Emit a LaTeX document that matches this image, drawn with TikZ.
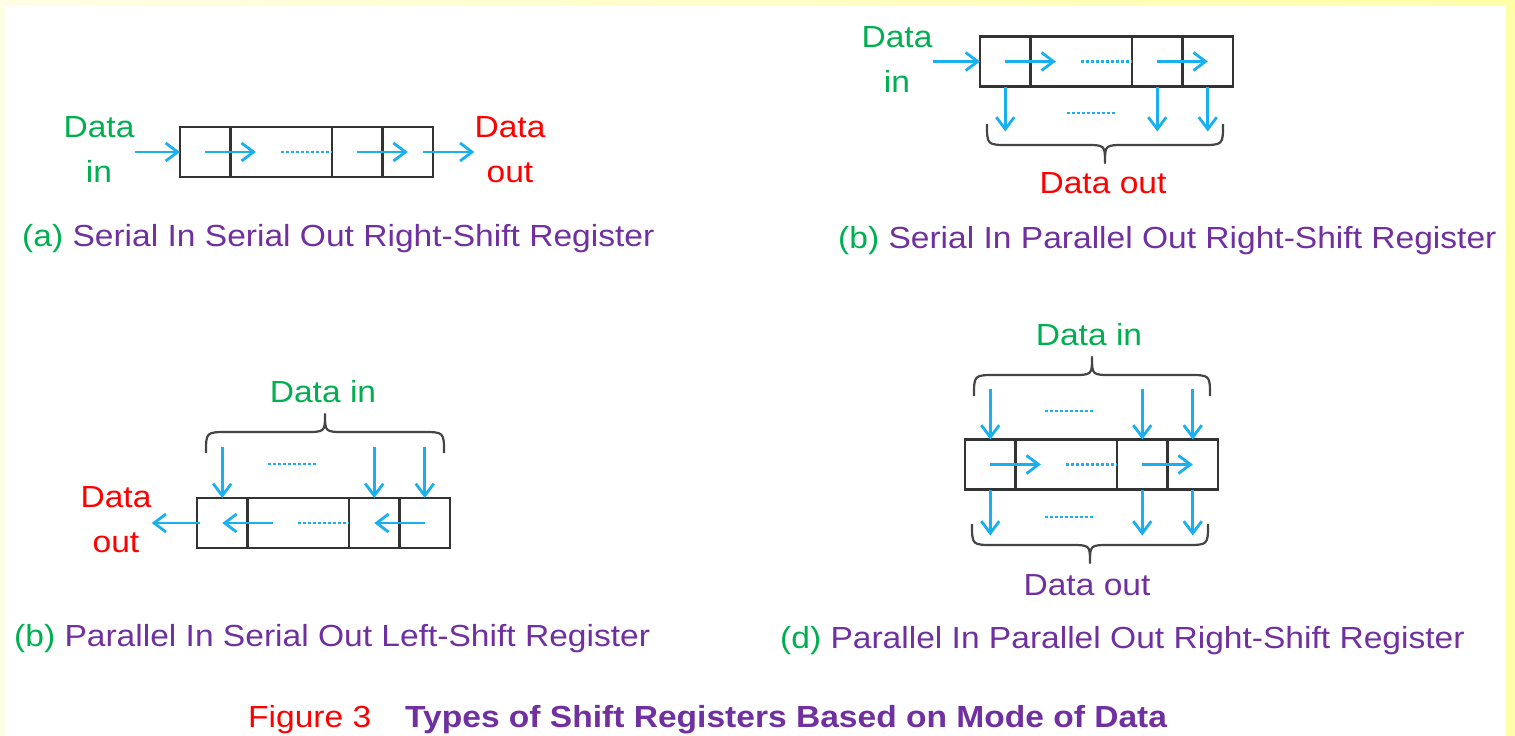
\documentclass[tikz,border=0pt]{standalone}
\usepackage{fontspec}
\setmainfont{Liberation Sans}[FakeStretch=1.1]
\usetikzlibrary{positioning, arrows.meta, calc}

\definecolor{datagreen}{HTML}{00B050}
\definecolor{datared}{HTML}{FF0000}
\definecolor{captionpurple}{HTML}{7030A0}
\definecolor{flowblue}{HTML}{1AAFEF}
\definecolor{boxgray}{HTML}{333333}
\definecolor{bracegray}{HTML}{454545}
\definecolor{pageyellow}{HTML}{FFFFA8}
\definecolor{edgecream}{HTML}{FFFDE4}

\newcommand{\labelfont}{\fontsize{30.5}{45}\selectfont}
% brace: left x, right x, end y, direction (1 = tip down, -1 = tip up)
\newcommand{\regbrace}[4]{%
  \draw[curly] (#1,#3) .. controls (#1,{#3+21*#4}) .. ({#1+22},{#3+21*#4})
    -- ({(#1+#2)/2-20},{#3+21*#4}) .. controls ({(#1+#2)/2},{#3+21*#4}) .. ({(#1+#2)/2},{#3+39*#4})
    .. controls ({(#1+#2)/2},{#3+21*#4}) .. ({(#1+#2)/2+20},{#3+21*#4})
    -- ({#2-22},{#3+21*#4}) .. controls (#2,{#3+21*#4}) .. (#2,#3);}

\begin{document}
\begin{tikzpicture}[x=1pt, y=-1pt]
		\tikzset{
			>={Straight Barb[length=12pt, width=18pt]},
			cell/.style={draw=boxgray, line width=2.2pt, minimum width=50.5pt, minimum height=50pt, inner sep=0pt, outer sep=0pt},
			widecell/.style={cell, minimum width=101.5pt},
			flow/.style={->, draw=flowblue, line width=2.8pt},
			dots/.style={draw=flowblue, line width=2.5pt, dash pattern=on 2.5pt off 2.5pt},
			curly/.style={draw=bracegray, line width=2.2pt, line join=round},
			every node/.style={font=\labelfont},
			tag/.style={align=center, inner sep=0pt},
			caption/.style={anchor=base west, inner sep=0pt, text=captionpurple}
		}
		
		% Page
		\fill[pageyellow] (0,0) rectangle (1515,736);
		\shade[left color=edgecream, right color=pageyellow] (0,0) rectangle (1515,6);
		\fill[edgecream] (0,6) rectangle (5,736);
		\fill[white] (5,6) rectangle (1506,736);
		\useasboundingbox (0,0) rectangle (1515,736);
		
		% (a) Serial in serial out
		\node[cell] (a1) at (205.25,152) {};
		\node[widecell, right=0pt of a1] (a2) {};
		\node[cell, right=0pt of a2] (a3) {};
		\node[cell, right=0pt of a3] (a4) {};
		\node[tag, text=datagreen] (ain) at (99,150) {Data\\in};
		\node[tag, text=datared] (aout) at (510,150) {Data\\out};
		
		\draw[flow] (ain.east |- a1) -- (a1.west);
		\draw[flow] (a1.center) -- ($(a2.west)!0.25!(a2.east)$);
		\draw[dots] (a2.center) -- (a2.east);
		\draw[flow] (a3.center) -- (a4.center);
		\draw[flow] ($(a4.east)+(-10,0)$) -- (aout.west |- a4);
		
		\node[caption] (acap) at (22,246) {\textcolor{datagreen}{(a)} Serial In Serial Out Right-Shift Register};
		
		% (b) Serial in parallel out
		\node[cell] (b1) at (1005.25,61.5) {};
		\node[widecell, right=0pt of b1] (b2) {};
		\node[cell, right=0pt of b2] (b3) {};
		\node[cell, right=0pt of b3] (b4) {};
		\node[tag, text=datagreen] (bin) at (897,60) {Data\\in};
		
		\draw[flow] (bin.east |- b1) -- (b1.west);
		\draw[flow] (b1.center) -- ($(b2.west)!0.25!(b2.east)$);
		\draw[dots] (b2.center) -- (b2.east);
		\draw[flow] (b3.center) -- (b4.center);
		\draw[flow] (b1.south) -- ([yshift=-45pt]b1.south);
		\draw[flow] (b3.south) -- ([yshift=-45pt]b3.south);
		\draw[flow] (b4.south) -- ([yshift=-45pt]b4.south);
		\draw[dots] (1067,113) -- (1117,113);
		
		\regbrace{987}{1223}{124}{1}
		\node[anchor=base, text=datared] (bout) at (1103,193) {Data out};
		
		\node[caption] (bcap) at (838,248) {\textcolor{datagreen}{(b)} Serial In Parallel Out Right-Shift Register};
		
		% (c) Parallel in serial out
		\node[cell] (c1) at (222.25,523) {};
		\node[widecell, right=0pt of c1] (c2) {};
		\node[cell, right=0pt of c2] (c3) {};
		\node[cell, right=0pt of c3] (c4) {};
		\node[tag, text=datared] (cout) at (116,520) {Data\\out};
		
		\draw[flow] ($(c2.west)!0.25!(c2.east)$) -- (c1.center);
		\draw[dots] (c2.center) -- (c2.east);
		\draw[flow] (c4.center) -- (c3.center);
		\draw[flow] ($(c1.west)+(3,0)$) -- (cout.east |- c1);
		\draw[flow] ([yshift=51pt]c1.north) -- (c1.north);
		\draw[flow] ([yshift=51pt]c3.north) -- (c3.north);
		\draw[flow] ([yshift=51pt]c4.north) -- (c4.north);
		\draw[dots] (268,464) -- (318,464);
		
		\regbrace{206}{444}{453}{-1}
		\node[anchor=base, text=datagreen] (cin) at (323,402) {Data in};
		
		\node[caption] (ccap) at (14,646) {\textcolor{datagreen}{(b)} Parallel In Serial Out Left-Shift Register};
		
		% (d) Parallel in parallel out
		\node[cell] (d1) at (990.25,464.5) {};
		\node[widecell, right=0pt of d1] (d2) {};
		\node[cell, right=0pt of d2] (d3) {};
		\node[cell, right=0pt of d3] (d4) {};
		
		\draw[flow] (d1.center) -- ($(d2.west)!0.25!(d2.east)$);
		\draw[dots] (d2.center) -- (d2.east);
		\draw[flow] (d3.center) -- (d4.center);
		\draw[flow] ([yshift=51pt]d1.north) -- (d1.north);
		\draw[flow] ([yshift=51pt]d3.north) -- (d3.north);
		\draw[flow] ([yshift=51pt]d4.north) -- (d4.north);
		\draw[flow] (d1.south) -- ([yshift=-46pt]d1.south);
		\draw[flow] (d3.south) -- ([yshift=-46pt]d3.south);
		\draw[flow] (d4.south) -- ([yshift=-46pt]d4.south);
		\draw[dots] (1045,411) -- (1095,411);
		\draw[dots] (1045,517) -- (1095,517);
		
		\regbrace{974}{1210}{396}{-1}
		\regbrace{972}{1208}{524}{1}
		\node[anchor=base, text=datagreen] (din) at (1089,345) {Data in};
		\node[anchor=base, text=captionpurple] (dout) at (1087,595) {Data out};
		
		\node[caption] (dcap) at (780,648) {\textcolor{datagreen}{(d)} Parallel In Parallel Out Right-Shift Register};
		
		% Title
		\node[anchor=base west, inner sep=0pt, text=datared] (fignum) at (248,727) {Figure 3};
		\node[anchor=base west, inner sep=0pt, text=captionpurple, font=\labelfont\bfseries] (figtitle) at (405,727) {Types of Shift Registers Based on Mode of Data};
		
	\end{tikzpicture}
\end{document}
